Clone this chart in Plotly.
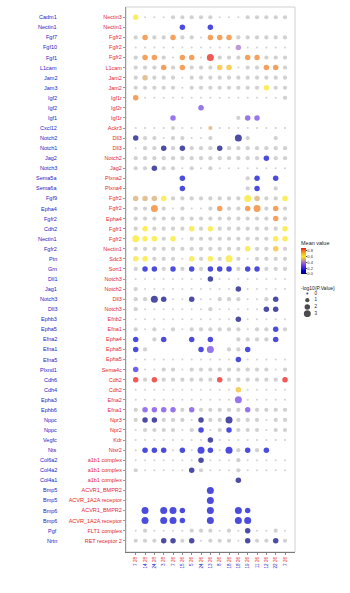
import plotly.graph_objects as go

# ---------------- data ----------------
ligands = ["Cadm1", "Nectin1", "Fgf7", "Fgf10", "Fgf1", "L1cam", "Jam2", "Jam3", "Igf2", "Igf2",
           "Igf1", "Cxcl12", "Notch2", "Notch1", "Jag2", "Notch3", "Sema5a", "Sema6a", "Fgf9", "Epha4",
           "Fgfr2", "Cdh2", "Nectin1", "Fgfr2", "Ptn", "Grn", "Dll1", "Jag1", "Notch3", "Dll3",
           "Ephb3", "Epha5", "Efna2", "Efna1", "Efna5", "Plxnd1", "Cdh6", "Cdh4", "Epha3", "Ephb6",
           "Nppc", "Nppc", "Vegfc", "Nts", "Col6a2", "Col4a2", "Col4a1", "Bmp5", "Bmp5", "Bmp6",
           "Bmp6", "Pgf", "Nrtn"]
receptors = ["Nectin3", "Nectin1", "Fgfr2", "Fgfr2", "Fgfr2", "L1cam", "Jam2", "Jam2", "Igf1r", "Igf2r",
             "Igf1r", "Ackr3", "Dll3", "Dll3", "Notch2", "Jag2", "Plxna2", "Plxna4", "Fgfr2", "Fgfr2",
             "Epha4", "Fgfr1", "Fgfr2", "Nectin1", "Sdc3", "Sort1", "Notch3", "Notch2", "Dll3", "Notch3",
             "Efnb2", "Efna1", "Epha4", "Epha5", "Epha5", "Sema4c", "Cdh2", "Cdh2", "Efna2", "Efna1",
             "Npr3", "Npr2", "Kdr", "Ntsr2", "a1b1 complex", "a1b1 complex", "a1b1 complex",
             "ACVR1_BMPR2", "ACVR_1A2A receptor", "ACVR1_BMPR2", "ACVR_1A2A receptor",
             "FLT1 complex", "RET receptor 2"]
target_groups = ["7", "14", "24", "3", "7", "15", "5", "24", "13", "8", "18", "18", "19", "11", "12", "22", "7"]
source_groups = ["28", "28", "28", "28", "26", "26", "26", "26", "26", "26", "26", "26", "26", "26", "26", "26", "26"]

# colour code per cell: 'g' = not significant (grey), digit = mean value level (x0.1), '.' = no dot
color_codes = [
    "6gggggggggggggggg", ".....1..1........", "g8gg8ggg888gggggg", "ggggggggggg4ggggg",
    "g88gg88g9ggg88ggg", "ggg8g8ggg77ggg88g", "g5ggggggggggggggg", "gggggggggggggg6gg",
    "8gggggggggggggggg", ".......3.........", "....3......g33...", "gggggggg5gggggggg",
    "0gggggggg..0g..g.", "ggg0g0ggg0ggggggg", "gggggggggggggg1gg", "gg0gggggggggggggg",
    ".....1......g1.1.", ".....1......g1.g.", "5556gggggggg65gg6", "gg8gggggg8gg88g8g",
    "ggggggggggggggg8g", "g6gggg6g6ggggggg6", "666g6gggggggggg66", "gggggggggggg6gg7g",
    "66gggg6g6g6gggggg", "g11g1g1g111g11ggg", "gggggggg0gggggggg", "ggggggggggg0ggggg",
    "gg00gg0gggggggg0.", "gggggggggggggg00.", "ggggggggggg0ggggg", "ggggggggggggggg1g",
    "1.g1..1.1..gggg1.", "1g.....13.gg1....", "ggggggggggg1ggggg", "2gggggggggggggggg",
    "9g9gggggg9gggggg9", "ggggggggggg7ggggg", "ggggggggggg3ggggg", "g3333g3ggggg3gggg",
    "g00gggg0gg0gggggg", "ggggggg1gg1gggggg", "gggggggg0gggggggg", "g111g1g11g1g1g1..",
    "ggggggg0ggggggggg", "gggggg0gggggggggg", "...........0.....", "........1........",
    "........1........", ".1.111..1..11....", ".1.111..1..11....", "gggggggggggg0gggg",
    "ggg00g0ggggg0gg0g",
]
# -log10(p) class per cell: 0..3, '.' = no dot
size_codes = [
    "20001111100011111", ".....2..2........", "12112110222111111", "00000000000200000",
    "12210220311122111", "11121211122011221", "12111011111111111", "11111011111111211",
    "20000000000000001", ".......2.........", "....2......122...", "00001000100000000",
    "211011001..31..1.", "01121211121111111", "11111111111111211", "11211010100000000",
    ".....2......12.2.", ".....2......12.1.", "22221111111132112", "11310100121123121",
    "11111111111111121", "12111121211111112", "32212011111111122", "11111111111121121",
    "22111021213101111", "12212121222122111", "00000000200000000", "10000000000200000",
    "1132002001110012.", "1000000010000022.", "00000000000200000", "10101011111101121",
    "2.12..2.2..11112.", "21.....23.112....", "00000000000200000", "20011011111111101",
    "21211111121111112", "00000000000200000", "00000000000300000", "12222121111121111",
    "12211102113111011", "01111012012111011", "00000000200000000", "022202032031212..",
    "00000002000100000", "10000021000100000", "...........2.....", "........3........",
    "........3........", ".3.332..3..32....", ".3.332..3..33....", "01000011101020010",
    "11122120111021121",
]
size_legend_labels = ["0", "1", "2", "3"]
colorbar_ticks = [0.0, 0.2, 0.4, 0.6, 0.8]

# ---------------- styling ----------------
FONT = "Liberation Sans, Arial, sans-serif"
BLUE = "#2323c4"
RED = "#e4262b"
GREY = "#bdbdbd"
SIZE_PX = {0: 2.0, 1: 4.2, 2: 5.5, 3: 7.0}
colorscale = [
    [0.0, "#00007f"], [0.111, "#0000cd"], [0.222, "#3320e0"], [0.333, "#6b3be6"],
    [0.444, "#a070c8"], [0.555, "#d4a86a"], [0.666, "#f8e61c"], [0.777, "#f6b81a"],
    [0.888, "#f27818"], [1.0, "#e8140c"],
]

gx, gy, gs = [], [], []
cx, cy, cs, cv = [], [], [], []
for i, (crow, srow) in enumerate(zip(color_codes, size_codes)):
    for j, (c, s) in enumerate(zip(crow, srow)):
        if s == "." or c == ".":
            continue
        px = SIZE_PX[int(s)]
        if c == "g":
            gx.append(j); gy.append(i); gs.append(px)
        else:
            cx.append(j); cy.append(i); cs.append(px); cv.append(int(c) * 0.1)

fig = go.Figure()
fig.add_trace(go.Scatter(
    x=gx, y=gy, mode="markers", hoverinfo="skip", showlegend=False,
    marker=dict(color=GREY, size=gs, line=dict(width=0)),
))
fig.add_trace(go.Scatter(
    x=cx, y=cy, mode="markers", showlegend=False,
    marker=dict(color=cv, size=cs, line=dict(width=0), colorscale=colorscale,
                cmin=0, cmax=0.9, showscale=True,
                colorbar=dict(
                    x=0.781, xanchor="left", y=0.534, yanchor="middle",
                    len=26, lenmode="pixels", thickness=5, thicknessmode="pixels",
                    xpad=0, ypad=0, outlinewidth=0, tickvals=colorbar_ticks,
                    ticktext=[f"{t:.1f}" for t in colorbar_ticks],
                    tickfont=dict(size=4, family=FONT, color="#333"), ticklen=1,
                )),
))

# size legend drawn on a small auxiliary axis
leg_idx = list(range(len(size_legend_labels)))
fig.add_trace(go.Scatter(
    x=[1.6] * len(leg_idx), y=leg_idx, mode="markers", xaxis="x2", yaxis="y2",
    hoverinfo="skip", showlegend=False,
    marker=dict(color="black", size=[SIZE_PX[k] for k in leg_idx], line=dict(width=0)),
))
fig.add_trace(go.Scatter(
    x=[3.2] * len(leg_idx), y=leg_idx, mode="text", xaxis="x2", yaxis="y2",
    text=size_legend_labels, textposition="middle right", hoverinfo="skip", showlegend=False,
    textfont=dict(size=4.5, family=FONT, color="#222"),
))

n_rows = len(ligands)
n_cols = len(target_groups)
xticktext = [f"<span style='color:{BLUE}'>{t}</span> <span style='color:{RED}'>{s}</span>"
             for s, t in zip(source_groups, target_groups)]

annotations = [
    dict(x=-0.299, y=i, xref="paper", yref="y", text=name, showarrow=False,
         xanchor="right", yanchor="middle", font=dict(size=5.5, family=FONT, color=BLUE))
    for i, name in enumerate(ligands)
]
annotations.append(dict(x=0.772, y=0.567, xref="paper", yref="paper", text="Mean value",
                        showarrow=False, xanchor="left", yanchor="middle",
                        font=dict(size=5.5, family=FONT, color="#222")))
annotations.append(dict(x=0.772, y=0.4844, xref="paper", yref="paper", text="-log10(P.Value)",
                        showarrow=False, xanchor="left", yanchor="middle",
                        font=dict(size=5, family=FONT, color="#222")))

fig.update_layout(
    width=350, height=593,
    margin=dict(l=126, r=0, t=7, b=41),
    paper_bgcolor="white", plot_bgcolor="white",
    font=dict(family=FONT),
    xaxis=dict(domain=[0, 0.7545], range=[-1.04, n_cols - 1 + 1.07],
               tickmode="array", tickvals=list(range(n_cols)), ticktext=xticktext,
               tickangle=-90, tickfont=dict(size=4.6, family=FONT),
               showgrid=False, zeroline=False, showline=True, linecolor="#7a7a7a", linewidth=1.2,
               ticks="outside", ticklen=2, tickcolor="#8a8a8a", automargin=False),
    yaxis=dict(range=[n_rows - 1 + 1.12, -1.02],
               tickmode="array", tickvals=list(range(n_rows)), ticktext=receptors,
               tickfont=dict(size=5.5, family=FONT, color=RED),
               showgrid=False, zeroline=False, showline=True, linecolor="#9a9a9a", linewidth=1,
               ticks="outside", ticklen=2, tickcolor="#9a9a9a", automargin=False),
    xaxis2=dict(domain=[0.777, 0.98], range=[0, 10], visible=False, anchor="y2"),
    yaxis2=dict(domain=[0.4312, 0.4807], range=[3.5, -0.5], visible=False, anchor="x2"),
    annotations=annotations,
    shapes=[dict(type="rect", xref="x domain", yref="y domain", x0=0, x1=1, y0=0, y1=1,
                 line=dict(color="#d0d0d0", width=1), layer="below")],
)

fig.write_html("out.html")
